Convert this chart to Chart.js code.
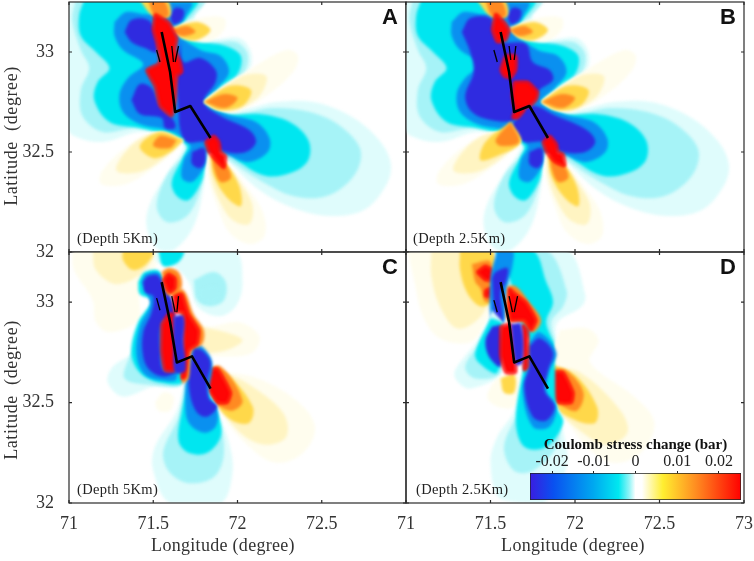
<!DOCTYPE html>
<html>
<head>
<meta charset="utf-8">
<title>Coulomb stress change</title>
<script src="https://cdn.jsdelivr.net/npm/chart.js@4"></script>
<style>
html, body { margin: 0; padding: 0; background: #fff; }
#page { position: relative; width: 754px; height: 561px; overflow: hidden; }
#page canvas { position: absolute; left: 0; top: 0; }
</style>
</head>
<body>
<div id="page"></div>
<script>
// axis values
const lonTicksLeft = [71, 71.5, 72, 72.5];
const lonTicksRight = [71, 71.5, 72, 72.5, 73];
const latTicks = [32, 32.5, 33];
const barTicks = [-0.02, -0.01, 0, 0.01, 0.02];
const barRange = [-0.0253, 0.0253];
const barStops = [[0, '#3a1de0'], [0.11, '#0a50f0'], [0.3, '#00a8f0'], [0.42, '#00e8f0'], [0.47, '#90f4f6'], [0.5, '#ffffff'], [0.53, '#ffffff'], [0.63, '#ffee30'], [0.79, '#ff8a20'], [1, '#ff0000']];

// one colour per contour band
const bands = {
    pale: '#dffcfc', mid: '#a6f3f7', cyan: '#00e6f0', blue: '#0a90f0', deep: '#2f2be0',
    wpale: '#fffdee', wlight: '#fff4c2', yellow: '#ffd84a', orange: '#ff8a22', red: '#ff0505'
};

// contours, lon/lat. panels A and B share the far field
const abPale = [[70.99,33.26],[71.82,33.26],[71.74,33.2],[71.84,33.07],[72.01,33.07],[72.08,33.0],[72.07,32.91],[71.97,32.85],[71.82,32.75],[72.05,32.72],[72.23,32.75],[72.45,32.75],[72.67,32.68],[72.84,32.56],[72.91,32.44],[72.88,32.33],[72.75,32.21],[72.55,32.18],[72.33,32.22],[72.13,32.31],[71.95,32.45],[71.88,32.51],[71.82,32.48],[71.8,32.33],[71.74,32.13],[71.62,32.01],[71.52,32.02],[71.46,32.13],[71.48,32.24],[71.58,32.39],[71.68,32.53],[71.62,32.57],[71.42,32.6],[71.2,32.55],[71.03,32.58],[70.99,32.63]];
const abMid = [[71.04,33.26],[71.8,33.26],[71.74,33.18],[71.64,33.11],[71.82,33.05],[71.99,33.05],[72.06,32.99],[72.04,32.9],[71.93,32.84],[71.82,32.75],[71.97,32.69],[72.21,32.72],[72.43,32.7],[72.61,32.63],[72.73,32.51],[72.69,32.38],[72.53,32.28],[72.33,32.28],[72.13,32.36],[71.95,32.46],[71.88,32.51],[71.82,32.46],[71.78,32.31],[71.7,32.18],[71.58,32.15],[71.52,32.23],[71.58,32.38],[71.7,32.52],[71.62,32.58],[71.4,32.62],[71.2,32.6],[71.08,32.68],[71.07,32.81],[71.12,32.92],[71.07,33.01],[71.02,33.16]];
const abCyan = [[71.09,33.26],[71.76,33.26],[71.69,33.16],[71.63,33.1],[71.8,33.05],[71.93,33.03],[72.02,32.98],[72.0,32.89],[71.9,32.83],[71.8,32.75],[71.93,32.69],[72.13,32.69],[72.31,32.65],[72.42,32.56],[72.42,32.46],[72.33,32.4],[72.17,32.38],[72.01,32.45],[71.92,32.51],[71.82,32.48],[71.79,32.36],[71.71,32.26],[71.64,32.28],[71.61,32.35],[71.68,32.48],[71.7,32.53],[71.6,32.58],[71.42,32.62],[71.24,32.65],[71.15,32.76],[71.17,32.85],[71.24,32.92],[71.16,33.0],[71.07,33.08],[71.06,33.18]];
const abBlue = [[71.27,33.15],[71.34,33.2],[71.48,33.19],[71.59,33.25],[71.73,33.25],[71.68,33.16],[71.64,33.1],[71.78,33.01],[71.9,32.98],[71.95,32.9],[71.88,32.82],[71.8,32.75],[71.93,32.69],[72.11,32.65],[72.19,32.57],[72.18,32.5],[72.07,32.45],[71.95,32.48],[71.84,32.5],[71.8,32.42],[71.73,32.35],[71.67,32.37],[71.68,32.46],[71.72,32.53],[71.62,32.6],[71.42,32.64],[71.32,32.7],[71.3,32.79],[71.35,32.87],[71.44,32.94],[71.32,33.01],[71.27,33.08]];
const abDeepNE = [[71.6,33.18],[71.63,33.22],[71.68,33.21],[71.67,33.16],[71.62,33.14]];
const abDeepS = [[71.73,32.5],[71.8,32.52],[71.81,32.46],[71.78,32.42],[71.73,32.44]];
const abTopYellow = [[71.42,33.26],[71.58,33.26],[71.6,33.18],[71.5,33.18]];
const abTopOrange = [[71.47,33.26],[71.56,33.26],[71.59,33.18],[71.51,33.18]];
const abSouthPale = [[71.82,32.5],[71.92,32.46],[72.05,32.33],[72.15,32.2],[72.16,32.08],[72.07,32.04],[71.95,32.1],[71.88,32.23],[71.83,32.36]];
const abSouthLight = [[71.83,32.48],[71.92,32.45],[72.03,32.33],[72.09,32.23],[72.07,32.14],[71.97,32.16],[71.89,32.26],[71.84,32.38]];
const abSouthYellow = [[71.84,32.49],[71.93,32.44],[72.01,32.33],[72.02,32.23],[71.94,32.27],[71.86,32.38]];
const abSouthOrange = [[71.85,32.49],[71.93,32.44],[71.96,32.37],[71.9,32.35],[71.86,32.42]];
const abWestPale = [[71.68,32.55],[71.54,32.6],[71.38,32.55],[71.2,32.41],[71.19,32.34],[71.34,32.34],[71.52,32.43],[71.62,32.5]];
const abWestLight = [[71.68,32.56],[71.54,32.6],[71.38,32.54],[71.28,32.41],[71.42,32.4],[71.58,32.48]];
const abEastPale = [[71.8,32.75],[72.05,32.9],[72.29,33.01],[72.36,32.98],[72.33,32.9],[72.17,32.78],[71.99,32.7],[71.88,32.72]];
const abEastLight = [[71.8,32.75],[72.03,32.88],[72.17,32.88],[72.13,32.78],[71.99,32.71],[71.89,32.71]];
const abEastYellow = [[71.8,32.75],[71.95,32.83],[72.08,32.81],[72.03,32.73],[71.89,32.71]];
const abEastOrange = [[71.8,32.75],[71.92,32.79],[72.0,32.77],[71.93,32.72]];
const abNorthPale = [[71.61,33.12],[71.78,33.17],[71.92,33.17],[71.92,33.11],[71.82,33.05],[71.68,33.07]];
const abNorthYellow = [[71.61,33.12],[71.76,33.15],[71.84,33.11],[71.76,33.06],[71.67,33.07]];
const abNorthOrange = [[71.61,33.11],[71.7,33.13],[71.75,33.1],[71.67,33.08]];

const aDeepNW = [[71.33,33.1],[71.37,33.16],[71.47,33.16],[71.51,33.1],[71.52,33.0],[71.45,33.02],[71.37,33.05]];
const aDeepMid = [[71.66,33.05],[71.68,32.95],[71.78,32.97],[71.87,32.91],[71.87,32.85],[71.8,32.75],[71.9,32.68],[72.07,32.61],[72.11,32.55],[72.05,32.5],[71.93,32.5],[71.82,32.55],[71.7,32.55],[71.66,32.61],[71.65,32.71],[71.64,32.88]];
const aDeepW = [[71.37,32.76],[71.42,32.84],[71.49,32.82],[71.54,32.73],[71.62,32.66],[71.63,32.62],[71.57,32.62],[71.55,32.67],[71.42,32.69]];
const aWestYellow = [[71.68,32.56],[71.54,32.6],[71.42,32.53],[71.5,32.47],[71.6,32.5]];
const aWestOrange = [[71.64,32.56],[71.54,32.58],[71.5,32.53],[71.6,32.52]];
const aRedMain = [[71.51,33.19],[71.59,33.15],[71.64,33.07],[71.63,33.01],[71.66,32.95],[71.67,32.9],[71.64,32.88],[71.63,32.76],[71.61,32.68],[71.54,32.73],[71.51,32.83],[71.46,32.91],[71.53,32.94],[71.54,32.96],[71.52,33.05],[71.5,33.11]];
const aRedSE = [[71.81,32.55],[71.86,32.58],[71.89,32.55],[71.9,32.5],[71.93,32.48],[71.92,32.42],[71.88,32.45],[71.83,32.5]];
const aFault = [[71.55,33.1],[71.6,32.9],[71.63,32.7],[71.72,32.73],[71.84,32.57]];
const aSplays = [[[71.52,33.01],[71.54,32.95]], [[71.61,33.03],[71.62,32.95]], [[71.65,33.03],[71.63,32.95]]];

const bDeepBig = [[71.33,33.1],[71.38,33.17],[71.5,33.17],[71.52,33.1],[71.56,33.05],[71.71,33.04],[71.75,32.95],[71.85,32.91],[71.87,32.86],[71.79,32.81],[71.75,32.76],[71.64,32.66],[71.5,32.66],[71.39,32.7],[71.35,32.78],[71.4,32.9],[71.38,33.0]];
const bDeepSE = [[71.63,32.64],[71.74,32.73],[71.89,32.68],[72.07,32.61],[72.12,32.55],[72.06,32.5],[71.93,32.5],[71.81,32.55],[71.7,32.55],[71.64,32.6]];
const bWestYellow = [[71.62,32.65],[71.68,32.55],[71.54,32.48],[71.44,32.46],[71.47,32.55]];
const bWestOrange = [[71.62,32.65],[71.67,32.55],[71.56,32.53],[71.53,32.56]];
const bRedN = [[71.51,33.11],[71.53,33.19],[71.58,33.15],[71.61,33.11],[71.59,33.06],[71.54,33.05]];
const bRedMid = [[71.56,32.91],[71.59,32.98],[71.65,32.98],[71.65,32.91],[71.62,32.87],[71.58,32.88]];
const bRedE = [[71.64,32.85],[71.72,32.85],[71.78,32.8],[71.77,32.76],[71.73,32.73],[71.65,32.71],[71.63,32.78]];
const bRedLow = [[71.63,32.67],[71.65,32.71],[71.7,32.71],[71.66,32.67]];
const bRedSE = [[71.81,32.55],[71.85,32.58],[71.89,32.54],[71.9,32.5],[71.93,32.49],[71.94,32.43],[71.88,32.45],[71.83,32.5]];
const bFault = [[71.56,33.1],[71.61,32.9],[71.64,32.7],[71.73,32.73],[71.84,32.57]];
const bSplays = [[[71.52,33.01],[71.54,32.95]], [[71.61,33.03],[71.62,32.96]], [[71.65,33.03],[71.64,32.96]]];

const cNePale = [[71.51,33.26],[71.98,33.26],[72.03,33.1],[71.99,32.98],[71.89,32.93],[71.76,32.98],[71.71,33.1],[71.62,33.18],[71.52,33.2]];
const cNeMid = [[71.74,33.11],[71.86,33.15],[71.93,33.1],[71.92,33.01],[71.84,32.98],[71.76,33.01]];
const cNeCore = [[71.78,33.07],[71.88,33.08],[71.89,33.02],[71.83,33.0],[71.77,33.03]];
const cTopCyan = [[71.53,33.26],[71.68,33.26],[71.65,33.2],[71.56,33.18]];
const cWestPale = [[71.48,32.98],[71.39,32.76],[71.26,32.68],[71.23,32.6],[71.32,32.53],[71.5,32.58],[71.68,32.6],[71.6,32.93]];
const cWestMid = [[71.49,32.98],[71.41,32.81],[71.35,32.71],[71.33,32.62],[71.46,32.59],[71.68,32.6],[71.62,32.93]];
const cWestCyan = [[71.41,33.1],[71.45,33.15],[71.54,33.15],[71.61,32.93],[71.68,32.61],[71.54,32.6],[71.42,32.65],[71.37,32.75],[71.41,32.9],[71.49,33.01],[71.42,33.04]];
const cWestBlue = [[71.43,33.1],[71.46,33.14],[71.54,33.14],[71.62,32.94],[71.64,32.62],[71.56,32.61],[71.45,32.64],[71.4,32.74],[71.42,32.88],[71.48,32.98],[71.47,33.03]];
const cWestDeep = [[71.44,33.1],[71.47,33.13],[71.53,33.13],[71.63,32.94],[71.55,32.9],[71.54,32.75],[71.56,32.66],[71.63,32.65],[71.56,32.63],[71.48,32.66],[71.44,32.73],[71.44,32.85],[71.49,32.95],[71.5,33.03],[71.45,33.05]];
const cSouthPale = [[71.69,32.62],[71.64,32.46],[71.51,32.28],[71.5,32.16],[71.6,32.0],[71.9,32.0],[71.97,32.15],[71.95,32.3],[71.89,32.43],[71.82,32.53]];
const cSouthMid = [[71.69,32.6],[71.65,32.43],[71.56,32.26],[71.59,32.16],[71.7,32.1],[71.86,32.13],[71.92,32.25],[71.88,32.41]];
const cSouthCyan = [[71.71,32.6],[71.67,32.46],[71.65,32.31],[71.71,32.25],[71.82,32.25],[71.9,32.33],[71.89,32.43],[71.82,32.55]];
const cSouthBlue = [[71.73,32.79],[71.79,32.78],[71.85,32.7],[71.83,32.53],[71.88,32.46],[71.87,32.38],[71.8,32.35],[71.71,32.4],[71.69,32.5],[71.7,32.67]];
const cSouthDeep = [[71.74,32.77],[71.79,32.76],[71.84,32.7],[71.82,32.6],[71.83,32.52],[71.88,32.48],[71.82,32.43],[71.76,32.45],[71.72,32.53],[71.71,32.65],[71.73,32.72]];
const cMidDeep = [[71.62,32.93],[71.68,32.93],[71.68,32.8],[71.69,32.66],[71.63,32.65],[71.62,32.78]];
const cNwPale = [[71.02,33.26],[71.51,33.26],[71.48,33.1],[71.42,33.05],[71.41,32.91],[71.24,32.85],[71.16,32.9],[71.14,33.01],[71.03,33.16]];
const cNwLight = [[71.14,33.26],[71.5,33.26],[71.44,33.15],[71.28,33.09],[71.16,33.16]];
const cNwYellow = [[71.32,33.26],[71.5,33.26],[71.46,33.19],[71.38,33.16],[71.32,33.21]];
const cSwPale = [[71.51,32.5],[71.56,32.55],[71.62,32.53],[71.6,32.46],[71.53,32.46]];
const cEastPale = [[71.74,32.93],[71.82,32.88],[72.01,32.9],[72.13,32.83],[72.09,32.75],[71.93,32.73],[71.82,32.75]];
const cEastLight = [[71.77,32.88],[71.93,32.85],[72.03,32.81],[71.93,32.76],[71.8,32.76]];
const cSePale = [[71.88,32.66],[72.12,32.62],[72.35,32.51],[72.46,32.38],[72.39,32.25],[72.23,32.2],[72.07,32.28],[71.9,32.46]];
const cSeLight = [[71.86,32.67],[72.05,32.6],[72.27,32.45],[72.29,32.33],[72.17,32.29],[72.03,32.34],[71.9,32.48]];
const cSeYellow = [[71.84,32.67],[71.94,32.64],[72.09,32.48],[72.07,32.4],[71.97,32.41],[71.88,32.49]];
const cSeOrange = [[71.8,32.66],[71.9,32.68],[72.03,32.51],[71.97,32.46],[71.88,32.49],[71.83,32.56]];
const cSeRed = [[71.8,32.65],[71.88,32.67],[71.96,32.55],[71.94,32.5],[71.88,32.5],[71.83,32.56]];
const cStripeOrange = [[71.61,33.06],[71.68,33.06],[71.74,32.94],[71.8,32.86],[71.79,32.79],[71.73,32.76],[71.71,32.62],[71.67,32.6],[71.66,32.95]];
const cStripeRed = [[71.62,33.04],[71.67,33.04],[71.71,32.94],[71.77,32.86],[71.76,32.79],[71.71,32.76],[71.69,32.63],[71.67,32.62],[71.68,32.8],[71.68,32.95],[71.63,32.95]];
const cTopOrange = [[71.55,33.15],[71.59,33.17],[71.65,33.15],[71.67,33.08],[71.63,33.04],[71.58,33.04]];
const cTopRed = [[71.56,33.11],[71.59,33.14],[71.63,33.12],[71.63,33.07],[71.6,33.05],[71.58,33.07]];
const cWestRed = [[71.55,32.89],[71.59,32.94],[71.62,32.94],[71.63,32.66],[71.57,32.66],[71.55,32.75]];
const cFault = [[71.55,33.1],[71.6,32.9],[71.64,32.7],[71.73,32.73],[71.84,32.57]];
const cSplays = [[[71.52,33.02],[71.54,32.96]], [[71.61,33.03],[71.63,32.95]], [[71.65,33.03],[71.64,32.95]]];

const dNwPale = [[71.01,33.26],[71.54,33.26],[71.52,33.04],[71.47,32.9],[71.38,32.8],[71.2,32.82],[71.1,32.93],[71.05,33.1]];
const dNwLight = [[71.15,33.26],[71.52,33.26],[71.49,33.01],[71.42,32.91],[71.3,32.87],[71.2,32.98],[71.15,33.13]];
const dNwYellow = [[71.32,33.26],[71.51,33.26],[71.51,33.01],[71.44,32.98],[71.36,33.05],[71.32,33.16]];
const dNwOrange = [[71.39,33.19],[71.5,33.2],[71.52,33.02],[71.47,33.0],[71.44,33.07],[71.41,33.1]];
const dNwRedA = [[71.42,33.15],[71.47,33.18],[71.51,33.16],[71.51,33.11],[71.47,33.11]];
const dNwRedB = [[71.47,33.06],[71.51,33.07],[71.51,33.03],[71.47,33.03]];
const dNePale = [[71.53,33.26],[71.95,33.26],[72.06,33.04],[72.04,32.98],[71.89,32.89],[71.9,32.71],[71.72,32.83],[71.56,33.1]];
const dNeMid = [[71.53,33.26],[71.83,33.26],[71.95,33.06],[71.93,32.98],[71.86,32.9],[71.89,32.75],[71.72,32.83],[71.56,33.1]];
const dNeCyan = [[71.53,33.26],[71.75,33.26],[71.83,33.1],[71.87,33.0],[71.83,32.9],[71.88,32.76],[71.73,32.81],[71.62,33.1]];
const dTopBlue = [[71.54,33.26],[71.63,33.26],[71.63,33.18],[71.6,33.08],[71.58,32.9],[71.51,32.89],[71.5,33.12]];
const dTopDeep = [[71.51,33.12],[71.53,33.15],[71.6,33.17],[71.59,33.1],[71.56,33.05],[71.57,32.91],[71.53,32.9],[71.52,32.98]];
const dWestPale = [[71.51,32.96],[71.44,32.83],[71.29,32.66],[71.3,32.61],[71.38,32.57],[71.56,32.65],[71.57,32.89]];
const dWestMid = [[71.51,32.93],[71.45,32.81],[71.35,32.68],[71.41,32.62],[71.56,32.65],[71.57,32.89]];
const dWestCyan = [[71.5,32.92],[71.41,32.75],[71.43,32.7],[71.54,32.65],[71.57,32.89]];
const dWestDeep = [[71.51,32.88],[71.47,32.81],[71.49,32.73],[71.56,32.68],[71.56,32.88]];
const dMidDeep = [[71.62,32.89],[71.68,32.89],[71.69,32.7],[71.65,32.69]];
const dSouthPale = [[71.7,32.68],[71.64,32.46],[71.54,32.33],[71.5,32.2],[71.56,32.02],[71.81,32.0],[71.95,32.18],[71.93,32.36],[71.89,32.48]];
const dSouthMid = [[71.71,32.6],[71.66,32.45],[71.58,32.28],[71.64,32.16],[71.75,32.16],[71.89,32.28],[71.91,32.4],[71.87,32.48]];
const dSouthCyan = [[71.7,32.7],[71.65,32.41],[71.7,32.28],[71.83,32.28],[71.93,32.4],[71.89,32.48],[71.87,32.76],[71.79,32.88],[71.73,32.81]];
const dSouthBlue = [[71.73,32.8],[71.79,32.85],[71.89,32.75],[71.85,32.66],[71.83,32.56],[71.89,32.48],[71.85,32.38],[71.75,32.38],[71.69,32.55],[71.72,32.68]];
const dSouthDeep = [[71.73,32.78],[71.79,32.82],[71.87,32.75],[71.84,32.66],[71.82,32.56],[71.88,32.48],[71.83,32.41],[71.75,32.43],[71.7,32.58],[71.73,32.68]];
const dLowPale = [[71.54,32.63],[71.65,32.64],[71.68,32.6],[71.64,32.48],[71.54,32.48],[71.48,32.53]];
const dLowYellow = [[71.56,32.62],[71.64,32.64],[71.64,32.55],[71.58,32.55]];
const dSePale = [[71.91,32.86],[72.07,32.87],[72.14,32.81],[72.09,32.7],[72.35,32.53],[72.47,32.4],[72.39,32.25],[72.23,32.2],[72.07,32.28],[71.91,32.48],[71.85,32.68]];
const dSeLight = [[71.85,32.68],[72.03,32.65],[72.27,32.46],[72.31,32.35],[72.19,32.29],[72.03,32.36],[71.89,32.48]];
const dSeYellow = [[71.87,32.69],[72.01,32.63],[72.13,32.48],[72.12,32.4],[72.01,32.41],[71.89,32.48]];
const dSeOrange = [[71.85,32.67],[71.95,32.66],[72.05,32.55],[72.01,32.46],[71.91,32.49],[71.83,32.56]];
const dSeRed = [[71.83,32.62],[71.86,32.65],[71.93,32.65],[71.99,32.55],[71.98,32.5],[71.9,32.5],[71.84,32.55]];
const dTopOrange = [[71.6,33.08],[71.65,33.08],[71.73,33.0],[71.8,32.91],[71.75,32.85],[71.69,32.9],[71.6,32.91]];
const dTopRed = [[71.61,33.07],[71.65,33.04],[71.71,33.0],[71.77,32.91],[71.74,32.86],[71.7,32.91],[71.62,32.91],[71.61,32.96]];
const dBarRedA = [[71.56,32.88],[71.62,32.89],[71.64,32.76],[71.65,32.65],[71.59,32.65],[71.56,32.73]];
const dBarRedB = [[71.69,32.89],[71.72,32.86],[71.72,32.68],[71.7,32.66],[71.69,32.78]];
const dFault = [[71.56,33.1],[71.61,32.9],[71.64,32.7],[71.73,32.73],[71.84,32.57]];
const dSplays = [[[71.52,33.01],[71.54,32.95]], [[71.61,33.03],[71.63,32.95]], [[71.66,33.03],[71.64,32.95]]];

// paint order per panel, first one is at the bottom
const farBlues = [['pale', abPale], ['mid', abMid], ['cyan', abCyan], ['blue', abBlue], ['deep', abDeepNE], ['deep', abDeepS]];
const farWarm = [
    ['wpale', abSouthPale], ['wlight', abSouthLight], ['yellow', abSouthYellow], ['orange', abSouthOrange],
    ['wpale', abWestPale], ['wlight', abWestLight],
    ['wpale', abEastPale], ['wlight', abEastLight], ['yellow', abEastYellow], ['orange', abEastOrange],
    ['wpale', abNorthPale], ['yellow', abNorthYellow], ['orange', abNorthOrange],
    ['yellow', abTopYellow], ['orange', abTopOrange]
];
const fieldA = [...farBlues, ['deep', aDeepNW], ['deep', aDeepMid], ['deep', aDeepW], ...farWarm,
    ['yellow', aWestYellow], ['orange', aWestOrange], ['red', aRedMain], ['red', aRedSE]];
const fieldB = [...farBlues, ['deep', bDeepBig], ['deep', bDeepSE], ...farWarm,
    ['yellow', bWestYellow], ['orange', bWestOrange], ['red', bRedN], ['red', bRedMid], ['red', bRedE], ['red', bRedLow], ['red', bRedSE]];
const fieldC = [
    ['wpale', cNwPale], ['wlight', cNwLight], ['yellow', cNwYellow], ['wpale', cSwPale],
    ['pale', cNePale], ['mid', cNeMid], ['mid', cNeCore], ['cyan', cTopCyan],
    ['wpale', cEastPale], ['wlight', cEastLight],
    ['wpale', cSePale], ['wlight', cSeLight], ['yellow', cSeYellow], ['orange', cSeOrange], ['red', cSeRed],
    ['pale', cWestPale], ['mid', cWestMid], ['cyan', cWestCyan], ['blue', cWestBlue], ['deep', cWestDeep],
    ['pale', cSouthPale], ['mid', cSouthMid], ['cyan', cSouthCyan], ['blue', cSouthBlue], ['deep', cSouthDeep],
    ['orange', cStripeOrange], ['red', cStripeRed], ['orange', cTopOrange], ['red', cTopRed], ['red', cWestRed], ['deep', cMidDeep]
];
const fieldD = [
    ['wpale', dNwPale], ['wlight', dNwLight], ['yellow', dNwYellow], ['orange', dNwOrange], ['red', dNwRedA], ['red', dNwRedB],
    ['pale', dNePale], ['mid', dNeMid], ['cyan', dNeCyan], ['blue', dTopBlue], ['deep', dTopDeep],
    ['wpale', dLowPale], ['yellow', dLowYellow],
    ['wpale', dSePale], ['wlight', dSeLight], ['yellow', dSeYellow], ['orange', dSeOrange], ['red', dSeRed],
    ['pale', dWestPale], ['mid', dWestMid], ['cyan', dWestCyan], ['deep', dWestDeep],
    ['pale', dSouthPale], ['mid', dSouthMid], ['cyan', dSouthCyan], ['blue', dSouthBlue], ['deep', dSouthDeep],
    ['orange', dTopOrange], ['red', dTopRed], ['red', dBarRedA], ['red', dBarRedB], ['deep', dMidDeep]
];

const serif = '"Liberation Serif", serif';
const W = 754, H = 561;

// polygons get a soft edge like the source raster, fault lines stay sharp
const softField = {
    id: 'softField',
    beforeDatasetsDraw(chart) { chart.ctx.filter = 'blur(1.8px)'; },
    afterDatasetDraw(chart, args, opts) { if (args.index === opts.last) chart.ctx.filter = 'none'; },
    afterDatasetsDraw(chart) { chart.ctx.filter = 'none'; }
};

// box and inward ticks, then the panel letter, depth note and axis names
const panelFrame = {
    id: 'panelFrame',
    afterDraw(chart, args, opts) {
        const { ctx, chartArea: a, scales } = chart;
        ctx.save();
        ctx.strokeStyle = '#2a2a2a';
        ctx.lineWidth = 1.2;
        ctx.strokeRect(a.left, a.top, a.right - a.left, a.bottom - a.top);
        ctx.beginPath();
        scales.x.ticks.forEach(t => {
            const px = scales.x.getPixelForValue(t.value);
            ctx.moveTo(px, a.bottom); ctx.lineTo(px, a.bottom - 3);
            ctx.moveTo(px, a.top); ctx.lineTo(px, a.top + 3);
        });
        scales.y.ticks.forEach(t => {
            const py = scales.y.getPixelForValue(t.value);
            ctx.moveTo(a.left, py); ctx.lineTo(a.left + 3, py);
            ctx.moveTo(a.right, py); ctx.lineTo(a.right - 3, py);
        });
        ctx.stroke();
        ctx.fillStyle = '#111';
        ctx.textAlign = 'center';
        ctx.textBaseline = 'middle';
        ctx.font = 'bold 22px "Liberation Sans", sans-serif';
        ctx.fillText(opts.letter, a.right - 16, a.top + 16);
        ctx.fillStyle = '#222';
        ctx.textAlign = 'left';
        ctx.font = '14.5px ' + serif;
        ctx.letterSpacing = '0.3px';
        ctx.fillText(opts.depth, a.left + opts.depthX, a.bottom - 13);
        ctx.fillStyle = '#333';
        ctx.textAlign = 'center';
        ctx.font = '18px ' + serif;
        if (opts.xTitle) ctx.fillText(opts.xTitle, opts.xTitleX, 546);
        if (opts.yTitle) {
            ctx.letterSpacing = '0.6px';
            ctx.translate(12, opts.yTitleY);
            ctx.rotate(-Math.PI / 2);
            ctx.fillText(opts.yTitle, 0, 0);
        }
        ctx.restore();
    }
};

function polyDataset(band, pts, i, total) {
    const isRed = band === 'red';
    return {
        data: pts.concat([pts[0]]),
        showLine: true, fill: 'shape', tension: isRed ? 0.15 : 0.35,
        backgroundColor: bands[band], pointRadius: 0,
        borderColor: bands.red, borderWidth: isRed ? 2 : 0,
        order: total - i
    };
}

function faultDataset(pts, width, order) {
    return { data: pts, showLine: true, fill: false, tension: 0, borderColor: '#000', borderWidth: width, pointRadius: 0, order: order, borderJoinStyle: 'round' };
}

function makePanel(cfg) {
    const canvas = document.createElement('canvas');
    canvas.width = W; canvas.height = H;
    document.getElementById('page').appendChild(canvas);
    const total = cfg.field.length;
    const datasets = cfg.field.map((f, i) => polyDataset(f[0], f[1], i, total + 8));
    cfg.splays.forEach((s, i) => datasets.push(faultDataset(s, 1.3, 2 + i)));
    datasets.push(faultDataset(cfg.fault, 2.6, 1));
    new Chart(canvas, {
        type: 'scatter',
        data: { datasets: datasets },
        plugins: [softField, panelFrame],
        options: {
            responsive: false, animation: false, devicePixelRatio: 1,
            events: [],
            layout: { padding: cfg.padding },
            plugins: {
                legend: { display: false }, tooltip: { enabled: false },
                softField: { last: total - 1 },
                panelFrame: { letter: cfg.letter, depth: cfg.depth, depthX: cfg.depthX, xTitle: cfg.xTitle, xTitleX: cfg.xTitleX, yTitle: cfg.yTitle, yTitleY: cfg.yTitleY }
            },
            scales: {
                x: {
                    type: 'linear', min: 71, max: 73,
                    afterBuildTicks: s => { s.ticks = (cfg.lonTicks || lonTicksRight).map(v => ({ value: v })); },
                    afterFit: s => { s.height = cfg.lonTicks ? 58 : 0; s.paddingLeft = 0; s.paddingRight = 0; },
                    grid: { display: false }, border: { display: false },
                    ticks: { display: !!cfg.lonTicks, maxRotation: 0, autoSkip: false, padding: 2, color: '#333', font: { family: serif, size: 18 }, callback: v => String(v) }
                },
                y: {
                    type: 'linear', min: 32, max: 33.25,
                    afterBuildTicks: s => { s.ticks = latTicks.map(v => ({ value: v })); },
                    afterFit: s => { s.width = cfg.yTitle ? 69 : 0; s.paddingTop = 0; s.paddingBottom = 0; },
                    grid: { display: false }, border: { display: false },
                    ticks: { display: !!cfg.yTitle, autoSkip: false, padding: 7, color: '#333', font: { family: serif, size: 18 }, callback: v => String(v) }
                }
            }
        }
    });
}

makePanel({ field: fieldA, fault: aFault, splays: aSplays, letter: 'A', depth: '(Depth 5Km)', depthX: 8, yTitle: 'Latitude  (degree)', yTitleY: 136, padding: { left: 0, top: 2, right: W - 406, bottom: H - 252 } });
makePanel({ field: fieldB, fault: bFault, splays: bSplays, letter: 'B', depth: '(Depth 2.5Km)', depthX: 7, padding: { left: 406, top: 2, right: W - 744, bottom: H - 252 } });
makePanel({ field: fieldC, fault: cFault, splays: cSplays, letter: 'C', depth: '(Depth 5Km)', depthX: 8, yTitle: 'Latitude  (degree)', yTitleY: 390, xTitle: 'Longitude (degree)', xTitleX: 223, lonTicks: lonTicksLeft, padding: { left: 0, top: 252, right: W - 406, bottom: 0 } });
makePanel({ field: fieldD, fault: dFault, splays: dSplays, letter: 'D', depth: '(Depth 2.5Km)', depthX: 10, xTitle: 'Longitude (degree)', xTitleX: 573, lonTicks: lonTicksRight, padding: { left: 406, top: 252, right: W - 744, bottom: 0 } });

// colour bar is its own small floating bar chart on top of panel D
const barCanvas = document.createElement('canvas');
barCanvas.width = W; barCanvas.height = H;
document.getElementById('page').appendChild(barCanvas);
new Chart(barCanvas, {
    type: 'bar',
    data: {
        labels: ['stress'],
        datasets: [{
            data: [barRange],
            barPercentage: 1, categoryPercentage: 1,
            borderWidth: 1, borderColor: '#222', borderSkipped: false,
            backgroundColor: c => {
                const a = c.chart.chartArea;
                if (!a) return '#000';
                const g = c.chart.ctx.createLinearGradient(a.left, 0, a.right, 0);
                barStops.forEach(s => g.addColorStop(s[0], s[1]));
                return g;
            }
        }]
    },
    options: {
        indexAxis: 'y', responsive: false, animation: false, devicePixelRatio: 1, events: [],
        layout: { padding: { left: 530, right: W - 741, top: 473 - 37, bottom: H - 500 } },
        plugins: { legend: { display: false }, tooltip: { enabled: false } },
        scales: {
            y: { display: false },
            x: {
                position: 'top', min: barRange[0], max: barRange[1],
                afterBuildTicks: s => { s.ticks = barTicks.map(v => ({ value: v })); },
                afterFit: s => { s.height = 37; s.paddingLeft = 0; s.paddingRight = 0; },
                grid: { drawOnChartArea: false, tickLength: 2, color: '#222' }, border: { display: false },
                ticks: { autoSkip: false, maxRotation: 0, padding: 0, color: '#222', font: { family: serif, size: 16 }, callback: v => String(v) },
                title: { display: true, text: 'Coulomb stress change (bar)', color: '#111', font: { family: serif, size: 15, weight: 'bold' }, padding: { top: 0, bottom: 0 } }
            }
        }
    }
});
</script>
</body>
</html>
